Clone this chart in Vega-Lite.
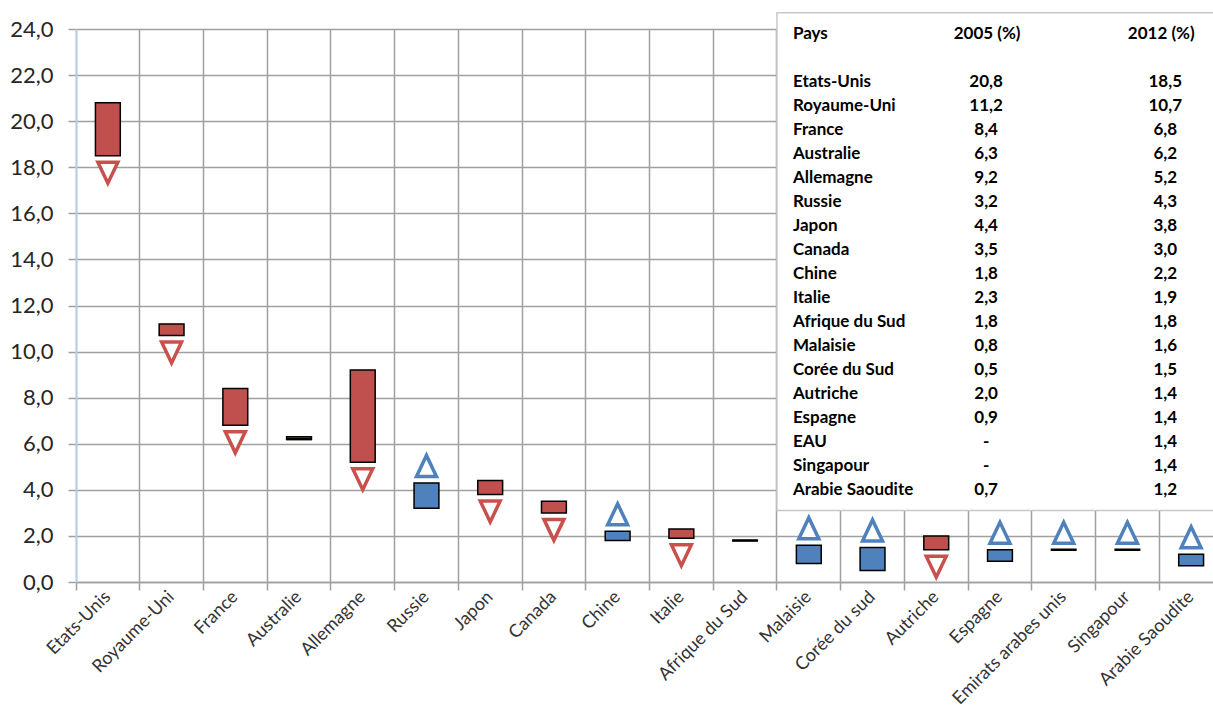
{
  "$schema": "https://vega.github.io/schema/vega-lite/v6.json",
  "width": 1147,
  "height": 553,
  "autosize": "none",
  "padding": {"left": 76, "top": 29, "right": 0, "bottom": 131},
  "background": "white",
  "config": {"view": {"stroke": null}, "font": "Lato"},
  "datasets": {
    "pays": [
      {"label": "Etats-Unis", "pays": "Etats-Unis", "v2005": 20.8, "v2012": 18.5, "t2005": "20,8", "t2012": "18,5", "marker": "down"},
      {"label": "Royaume-Uni", "pays": "Royaume-Uni", "v2005": 11.2, "v2012": 10.7, "t2005": "11,2", "t2012": "10,7", "marker": "down"},
      {"label": "France", "pays": "France", "v2005": 8.4, "v2012": 6.8, "t2005": "8,4", "t2012": "6,8", "marker": "down"},
      {"label": "Australie", "pays": "Australie", "v2005": 6.3, "v2012": 6.2, "t2005": "6,3", "t2012": "6,2", "marker": "none"},
      {"label": "Allemagne", "pays": "Allemagne", "v2005": 9.2, "v2012": 5.2, "t2005": "9,2", "t2012": "5,2", "marker": "down"},
      {"label": "Russie", "pays": "Russie", "v2005": 3.2, "v2012": 4.3, "t2005": "3,2", "t2012": "4,3", "marker": "up"},
      {"label": "Japon", "pays": "Japon", "v2005": 4.4, "v2012": 3.8, "t2005": "4,4", "t2012": "3,8", "marker": "down"},
      {"label": "Canada", "pays": "Canada", "v2005": 3.5, "v2012": 3.0, "t2005": "3,5", "t2012": "3,0", "marker": "down"},
      {"label": "Chine", "pays": "Chine", "v2005": 1.8, "v2012": 2.2, "t2005": "1,8", "t2012": "2,2", "marker": "up"},
      {"label": "Italie", "pays": "Italie", "v2005": 2.3, "v2012": 1.9, "t2005": "2,3", "t2012": "1,9", "marker": "down"},
      {"label": "Afrique du Sud", "pays": "Afrique du Sud", "v2005": 1.8, "v2012": 1.8, "t2005": "1,8", "t2012": "1,8", "marker": "none"},
      {"label": "Malaisie", "pays": "Malaisie", "v2005": 0.8, "v2012": 1.6, "t2005": "0,8", "t2012": "1,6", "marker": "up"},
      {"label": "Corée du sud", "pays": "Corée du Sud", "v2005": 0.5, "v2012": 1.5, "t2005": "0,5", "t2012": "1,5", "marker": "up"},
      {"label": "Autriche", "pays": "Autriche", "v2005": 2.0, "v2012": 1.4, "t2005": "2,0", "t2012": "1,4", "marker": "down"},
      {"label": "Espagne", "pays": "Espagne", "v2005": 0.9, "v2012": 1.4, "t2005": "0,9", "t2012": "1,4", "marker": "up"},
      {"label": "Emirats arabes unis", "pays": "EAU", "v2005": null, "v2012": 1.4, "t2005": "-", "t2012": "1,4", "marker": "up"},
      {"label": "Singapour", "pays": "Singapour", "v2005": null, "v2012": 1.4, "t2005": "-", "t2012": "1,4", "marker": "up"},
      {"label": "Arabie Saoudite", "pays": "Arabie Saoudite", "v2005": 0.7, "v2012": 1.2, "t2005": "0,7", "t2012": "1,2", "marker": "up"}
    ],
    "entete": [
      {"pays": "Pays", "t2005": "2005 (%)", "t2012": "2012 (%)"}
    ],
    "cadre": [
      {"de": "Malaisie", "a": "Arabie Saoudite", "haut": 24.7, "bas": 3.1}
    ]
  },
  "data": {"name": "pays"},
  "layer": [
    {
      "layer": [
        {
          "mark": {"type": "bar", "stroke": "black", "strokeWidth": 1.5, "width": {"band": 0.39}},
          "encoding": {
            "x": {
              "field": "label",
              "type": "nominal",
              "sort": null,
              "title": null,
              "scale": {
                "domain": ["Etats-Unis", "Royaume-Uni", "France", "Australie", "Allemagne", "Russie", "Japon", "Canada", "Chine", "Italie", "Afrique du Sud", "Malaisie", "Corée du sud", "Autriche", "Espagne", "Emirats arabes unis", "Singapour", "Arabie Saoudite"],
                "paddingInner": 0,
                "paddingOuter": 0
              },
              "axis": {
                "title": null,
                "bandPosition": 0,
                "grid": true,
                "gridColor": {"condition": {"test": "datum.value === 'Etats-Unis'", "value": "#b9cde5"}, "value": "#a0a0a0"},
                "gridWidth": 1.5,
                "domainColor": "#a0a0a0",
                "domainWidth": 1.5,
                "tickColor": "#a0a0a0",
                "tickWidth": 1.5,
                "tickSize": 8,
                "labelAngle": -45,
                "labelAlign": "right",
                "labelBaseline": "middle",
                "labelOffset": 0,
                "labelPadding": 4,
                "labelFontSize": 18,
                "labelColor": "#333333",
                "labelFont": "Lato"
              }
            },
            "y": {
              "field": "v2005",
              "type": "quantitative",
              "title": null,
              "scale": {"domain": [0, 24], "nice": false, "zero": true},
              "axis": {
                "title": null,
                "values": [0, 2, 4, 6, 8, 10, 12, 14, 16, 18, 20, 22, 24],
                "labelExpr": "replace(format(datum.value, '.1f'), '.', ',')",
                "grid": true,
                "gridColor": "#a0a0a0",
                "gridWidth": 1.5,
                "domainColor": "#b9cde5",
                "domainWidth": 2,
                "tickColor": "#a0a0a0",
                "tickWidth": 1.5,
                "tickSize": 8,
                "labelPadding": 15,
                "labelFontSize": 22,
                "labelColor": "#262626",
                "labelFont": "Lato"
              }
            },
            "y2": {"field": "v2012"},
            "color": {
              "condition": {"test": "datum.v2012 < datum.v2005", "value": "#C0504D"},
              "value": "#4F81BD"
            }
          }
        },
        {
          "transform": [{"filter": "datum.v2005 == null || datum.marker == 'none'"}],
          "mark": {"type": "tick", "color": "black", "thickness": 2.5, "size": 26, "opacity": 1},
          "encoding": {
            "x": {"field": "label", "type": "nominal", "sort": null, "title": null},
            "y": {"field": "v2012", "type": "quantitative", "title": null}
          }
        },
        {
          "transform": [{"filter": "datum.marker == 'down'"}],
          "mark": {
            "type": "point",
            "shape": "M-0.95,-1L0.95,-1L0,1Z",
            "size": 441,
            "filled": true,
            "fill": "white",
            "stroke": "#C8504D",
            "strokeWidth": 3.5,
            "opacity": 1,
            "yOffset": 17
          },
          "encoding": {
            "x": {"field": "label", "type": "nominal", "sort": null, "title": null},
            "y": {"field": "v2012", "type": "quantitative", "title": null}
          }
        },
        {
          "transform": [{"filter": "datum.marker == 'up'"}],
          "mark": {
            "type": "point",
            "shape": "M-0.95,1L0.95,1L0,-1Z",
            "size": 441,
            "filled": true,
            "fill": "white",
            "stroke": "#4F81BD",
            "strokeWidth": 3.5,
            "opacity": 1,
            "yOffset": -17
          },
          "encoding": {
            "x": {"field": "label", "type": "nominal", "sort": null, "title": null},
            "y": {"field": "v2012", "type": "quantitative", "title": null}
          }
        },
        {
          "data": {"name": "cadre"},
          "mark": {"type": "rect", "fill": "white", "stroke": "#c8c8c8", "strokeWidth": 1.5, "clip": false},
          "encoding": {
            "x": {"field": "de", "type": "nominal", "bandPosition": 0, "title": null},
            "x2": {"field": "a", "bandPosition": 1},
            "y": {"field": "haut", "type": "quantitative", "title": null},
            "y2": {"field": "bas"}
          }
        }
      ]
    },
    {
      "encoding": {
        "y": {
          "field": "pays",
          "type": "nominal",
          "title": null,
          "scale": {
            "type": "point",
            "padding": 0,
            "domain": ["Pays", " ", "Etats-Unis", "Royaume-Uni", "France", "Australie", "Allemagne", "Russie", "Japon", "Canada", "Chine", "Italie", "Afrique du Sud", "Malaisie", "Corée du Sud", "Autriche", "Espagne", "EAU", "Singapour", "Arabie Saoudite"],
            "range": [5, 461]
          },
          "axis": {"title": null, "labels": false, "ticks": false, "domain": false, "grid": false}
        }
      },
      "layer": [
        {
          "data": {"name": "entete"},
          "mark": {"type": "text", "align": "left", "baseline": "middle", "dx": 16, "fontWeight": "bold", "fontSize": 17, "font": "Lato", "color": "black"},
          "encoding": {
            "x": {"datum": "Malaisie", "bandPosition": 0, "title": null},
            "text": {"field": "pays"}
          }
        },
        {
          "data": {"name": "entete"},
          "mark": {"type": "text", "align": "center", "baseline": "middle", "dx": 19, "fontWeight": "bold", "fontSize": 17, "font": "Lato", "color": "black"},
          "encoding": {
            "x": {"datum": "Espagne", "bandPosition": 0, "title": null},
            "text": {"field": "t2005"}
          }
        },
        {
          "data": {"name": "entete"},
          "mark": {"type": "text", "align": "center", "baseline": "middle", "dx": 2, "fontWeight": "bold", "fontSize": 17, "font": "Lato", "color": "black"},
          "encoding": {
            "x": {"datum": "Arabie Saoudite", "bandPosition": 0, "title": null},
            "text": {"field": "t2012"}
          }
        },
        {
          "mark": {"type": "text", "align": "left", "baseline": "middle", "dx": 16, "fontWeight": "bold", "fontSize": 17, "font": "Lato", "color": "black"},
          "encoding": {
            "x": {"datum": "Malaisie", "bandPosition": 0, "title": null},
            "text": {"field": "pays"}
          }
        },
        {
          "mark": {"type": "text", "align": "center", "baseline": "middle", "dx": 18, "fontWeight": "bold", "fontSize": 17, "font": "Lato", "color": "black"},
          "encoding": {
            "x": {"datum": "Espagne", "bandPosition": 0, "title": null},
            "text": {"field": "t2005"}
          }
        },
        {
          "mark": {"type": "text", "align": "center", "baseline": "middle", "dx": 6, "fontWeight": "bold", "fontSize": 17, "font": "Lato", "color": "black"},
          "encoding": {
            "x": {"datum": "Arabie Saoudite", "bandPosition": 0, "title": null},
            "text": {"field": "t2012"}
          }
        }
      ]
    }
  ],
  "resolve": {"scale": {"y": "independent"}, "axis": {"y": "independent"}}
}
